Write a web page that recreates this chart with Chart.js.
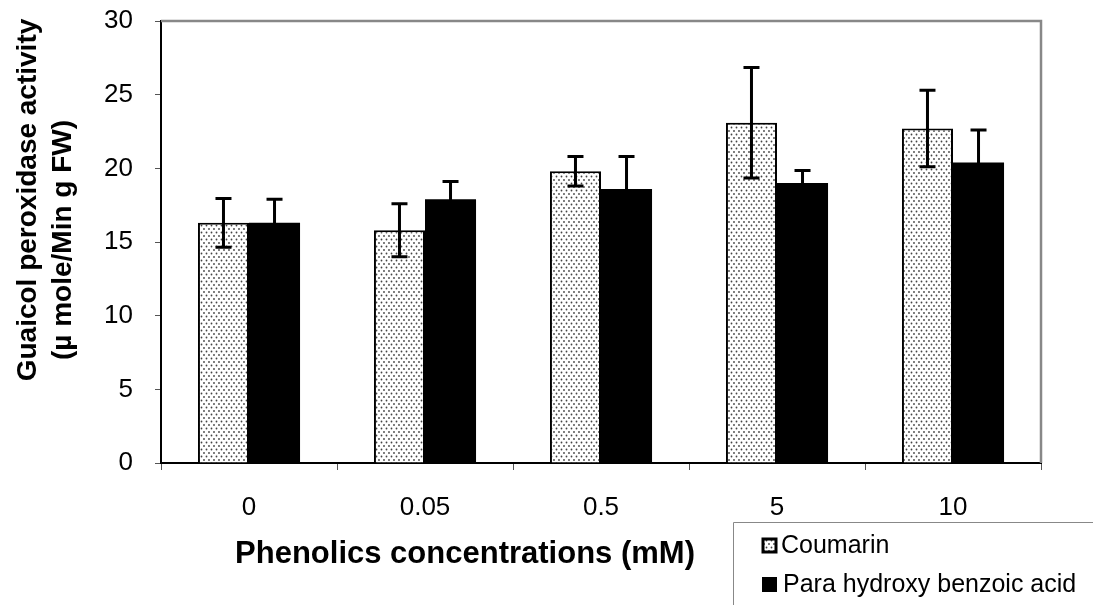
<!DOCTYPE html>
<html>
<head>
<meta charset="utf-8">
<script src="https://cdn.jsdelivr.net/npm/chart.js@4.4.1/dist/chart.umd.min.js"></script>
<style>
  html, body { margin: 0; padding: 0; background: #fff; }
  canvas { display: block; }
</style>
</head>
<body>
<canvas id="myChart" width="1093" height="605"></canvas>
<script>
// values
const concentrations = ['0', '0.05', '0.5', '5', '10'];
const coumarin = [16.3, 15.8, 19.8, 23.1, 22.7];
const coumarinErr = [1.65, 1.8, 1.0, 3.75, 2.6];
const paraHydroxy = [16.3, 17.9, 18.6, 19.0, 20.4];
const paraHydroxyErr = [1.6, 1.2, 2.2, 0.85, 2.2];
const seriesNames = ['Coumarin', 'Para hydroxy benzoic acid'];
const yTitleLines = ['Guaicol peroxidase activity', '(\u00b5 mole/Min g FW)'];
const xTitle = 'Phenolics concentrations (mM)';

const FONT = '"Liberation Sans", Arial, sans-serif';

// small dotted fill like the excel pattern
const makeDots = () => {
  const c = document.createElement('canvas');
  c.width = 5;
  c.height = 7;
  const g = c.getContext('2d');
  g.fillStyle = '#fff';
  g.fillRect(0, 0, 5, 7);
  g.fillStyle = '#444';
  g.beginPath();
  g.arc(1.5, 1.5, 0.9, 0, Math.PI * 2);
  g.arc(4.0, 5.0, 0.9, 0, Math.PI * 2);
  g.fill();
  g.beginPath();
  g.arc(-1.0, 5.0, 0.9, 0, Math.PI * 2);
  g.fill();
  return g.createPattern(c, 'repeat');
};

const ctx = document.getElementById('myChart').getContext('2d');
const dots = makeDots();

const errorBars = {
  id: 'errorBars',
  afterDatasetsDraw(chart) {
    const g = chart.ctx;
    const y = chart.scales.y;
    const errs = [coumarinErr, paraHydroxyErr];
    g.save();
    g.strokeStyle = '#000';
    g.lineWidth = 3;
    chart.data.datasets.forEach((ds, i) => {
      const meta = chart.getDatasetMeta(i);
      meta.data.forEach((bar, j) => {
        const v = ds.data[j];
        const top = y.getPixelForValue(v + errs[i][j]);
        const bot = y.getPixelForValue(v - errs[i][j]);
        g.beginPath();
        g.moveTo(bar.x, top);
        g.lineTo(bar.x, bot);
        g.moveTo(bar.x - 8, top);
        g.lineTo(bar.x + 8, top);
        g.moveTo(bar.x - 8, bot);
        g.lineTo(bar.x + 8, bot);
        g.stroke();
      });
    });
    g.restore();
  }
};

const frame = {
  id: 'frame',
  beforeDatasetsDraw(chart) {
    const a = chart.chartArea;
    const g = chart.ctx;
    g.save();
    g.strokeStyle = '#888';
    g.lineWidth = 2.5;
    g.beginPath();
    g.moveTo(a.left, a.top);
    g.lineTo(a.right, a.top);
    g.lineTo(a.right, a.bottom);
    g.stroke();
    g.restore();
  },
  afterDraw(chart) {
    const g = chart.ctx;
    g.save();
    g.fillStyle = '#000';

    // y title, two bold lines rotated
    g.font = 'bold 28px ' + FONT;
    g.textAlign = 'center';
    g.textBaseline = 'middle';
    g.save();
    g.translate(28, 200);
    g.rotate(-Math.PI / 2);
    g.fillText(yTitleLines[0], 0, 0);
    g.restore();
    g.save();
    g.translate(63, 240);
    g.rotate(-Math.PI / 2);
    g.fillText(yTitleLines[1], 0, 0);
    g.restore();

    // x title
    g.font = 'bold 31px ' + FONT;
    g.fillText(xTitle, 465, 554);

    // legend box
    g.strokeStyle = '#888';
    g.lineWidth = 1;
    g.beginPath();
    g.moveTo(733.5, 605);
    g.lineTo(733.5, 522.5);
    g.lineTo(1093, 522.5);
    g.stroke();

    g.fillStyle = dots;
    g.fillRect(763, 539, 13, 13);
    g.strokeStyle = '#000';
    g.lineWidth = 3;
    g.strokeRect(763, 539, 13, 13);
    g.fillStyle = '#000';
    g.fillRect(762, 577, 15, 15);

    g.font = '25px ' + FONT;
    g.textAlign = 'left';
    g.fillText(seriesNames[0], 781, 546);
    g.fillText(seriesNames[1], 783, 585);
    g.restore();
  }
};

const myChart = new Chart(ctx, {
  type: 'bar',
  data: {
    labels: concentrations,
    datasets: [{
      label: seriesNames[0],
      data: coumarin,
      backgroundColor: dots,
      borderColor: '#000',
      borderWidth: 2
    }, {
      label: seriesNames[1],
      data: paraHydroxy,
      backgroundColor: '#000',
      borderWidth: 0
    }]
  },
  options: {
    responsive: false,
    devicePixelRatio: 1,
    animation: false,
    layout: { padding: { top: 21, right: 52, left: 0, bottom: 0 } },
    datasets: { bar: { categoryPercentage: 0.58, barPercentage: 1 } },
    plugins: {
      legend: { display: false },
      tooltip: { enabled: false }
    },
    scales: {
      x: {
        grid: { drawOnChartArea: false, tickLength: 7, tickColor: '#555', lineWidth: 1 },
        border: { color: '#000', width: 2 },
        ticks: { color: '#000', font: { family: FONT, size: 26 }, padding: 22 },
        afterFit(scale) {
          scale.height = 142;
          scale.paddingLeft = 0;
          scale.paddingRight = 0;
        }
      },
      y: {
        min: 0,
        max: 30,
        grid: { drawOnChartArea: false, tickLength: 6, tickColor: '#555', lineWidth: 1 },
        border: { color: '#000', width: 2 },
        ticks: { stepSize: 5, color: '#000', font: { family: FONT, size: 26 }, padding: 22 },
        afterFit(scale) {
          scale.width = 161;
          scale.paddingTop = 0;
          scale.paddingBottom = 0;
        }
      }
    }
  },
  plugins: [frame, errorBars]
});
</script>
</body>
</html>
